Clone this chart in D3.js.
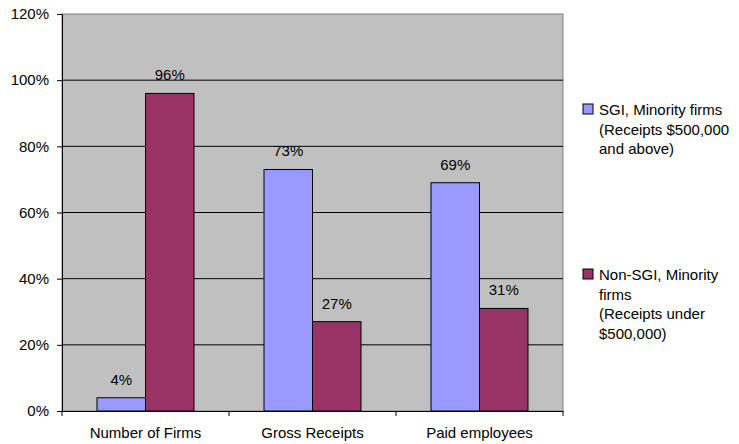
<!DOCTYPE html>
<html>
<head>
<meta charset="utf-8">
<script src="https://cdn.jsdelivr.net/npm/d3@7"></script>
<style>
body { margin: 0; background: #fff; }
text { font-family: "Liberation Sans", Arial, sans-serif; font-size: 15px; fill: #000; }
</style>
</head>
<body>
<svg id="chart"></svg>
<script>
const CATEGORIES = ["Number of Firms", "Gross Receipts", "Paid employees"];
const SERIES = ["SGI", "NonSGI"];
const SGI_VALUES = [4, 73, 69];
const NONSGI_VALUES = [96, 27, 31];
const Y_TICKS = [0, 20, 40, 60, 80, 100, 120];
const LEGEND_LINES = [
    ["SGI, Minority firms", "(Receipts $500,000", "and above)"],
    ["Non-SGI, Minority", "firms", "(Receipts under", "$500,000)"]
];

const WIDTH = 739;
const HEIGHT = 444;
const margin = { top: 14, left: 62, right: 176, bottom: 33 };
const innerW = WIDTH - margin.left - margin.right;
const innerH = HEIGHT - margin.top - margin.bottom;

const color = d3.scaleOrdinal(SERIES, ["#9999ff", "#993366"]);

const svg = d3.select("#chart")
    .attr("width", WIDTH)
    .attr("height", HEIGHT);

const g = svg.append("g")
    .attr("transform", "translate(" + margin.left + "," + margin.top + ")");

const x = d3.scaleBand().domain(CATEGORIES).range([0, innerW]);
const x1 = d3.scaleBand().domain(SERIES).range([35, x.bandwidth() - 35]);
const y = d3.scaleLinear().domain([0, 120]).range([innerH, 0]);

// plot background
g.append("rect")
    .attr("width", innerW)
    .attr("height", innerH)
    .attr("fill", "#c0c0c0")
    .attr("stroke", "#808080");

// gridlines
g.selectAll(".grid")
    .data(Y_TICKS.filter(d => d > 0 && d < 120))
    .enter().append("line")
    .attr("x1", 0).attr("x2", innerW)
    .attr("y1", d => y(d)).attr("y2", d => y(d))
    .attr("stroke", "#000");

const data = CATEGORIES.map((c, i) => ({
    cat: c,
    vals: [{ s: "SGI", v: SGI_VALUES[i] }, { s: "NonSGI", v: NONSGI_VALUES[i] }]
}));

const groups = g.selectAll(".grp")
    .data(data)
    .enter().append("g")
    .attr("transform", d => "translate(" + x(d.cat) + ",0)");

groups.selectAll("rect")
    .data(d => d.vals)
    .enter().append("rect")
    .attr("x", d => x1(d.s))
    .attr("width", x1.bandwidth())
    .attr("y", d => y(d.v))
    .attr("height", d => innerH - y(d.v))
    .attr("fill", d => color(d.s))
    .attr("stroke", "#000")
    .attr("stroke-width", 1);

groups.selectAll(".lbl")
    .data(d => d.vals)
    .enter().append("text")
    .attr("x", d => x1(d.s) + x1.bandwidth() / 2)
    .attr("y", d => y(d.v) - 13)
    .attr("text-anchor", "middle")
    .text(d => d.v + "%");

// y axis
const yAxis = g.append("g")
    .call(d3.axisLeft(y).tickValues(Y_TICKS).tickFormat(d => d + "%").tickSize(5).tickPadding(8));
yAxis.select(".domain").attr("stroke", "#000");
yAxis.selectAll("text").style("font-size", "15px").attr("fill", "#000");

// x axis
const xAxis = g.append("g")
    .attr("transform", "translate(0," + innerH + ")")
    .call(d3.axisBottom(x).tickSize(0).tickPadding(16));
xAxis.select(".domain").attr("stroke", "#000");
xAxis.selectAll("text").style("font-size", "15px").attr("fill", "#000").attr("dy", "0.71em");
xAxis.selectAll(".sep")
    .data(CATEGORIES.concat(["end"]))
    .enter().append("line")
    .attr("x1", (d, i) => i * x.step()).attr("x2", (d, i) => i * x.step())
    .attr("y1", 0).attr("y2", 5)
    .attr("stroke", "#000");

// legend
const legendTop = [106, 271];
const legend = svg.selectAll(".legend")
    .data(SERIES)
    .enter().append("g")
    .attr("transform", (d, i) => "translate(583," + legendTop[i] + ")");

legend.append("rect")
    .attr("x", 0).attr("y", -2)
    .attr("width", 10).attr("height", 10)
    .attr("fill", d => color(d))
    .attr("stroke", "#000");

legend.append("text")
    .attr("y", 9)
    .selectAll("tspan")
    .data((d, i) => LEGEND_LINES[i])
    .enter().append("tspan")
    .attr("x", 16)
    .attr("dy", (d, i) => i === 0 ? 0 : 19.5)
    .text(d => d);
</script>
</body>
</html>
